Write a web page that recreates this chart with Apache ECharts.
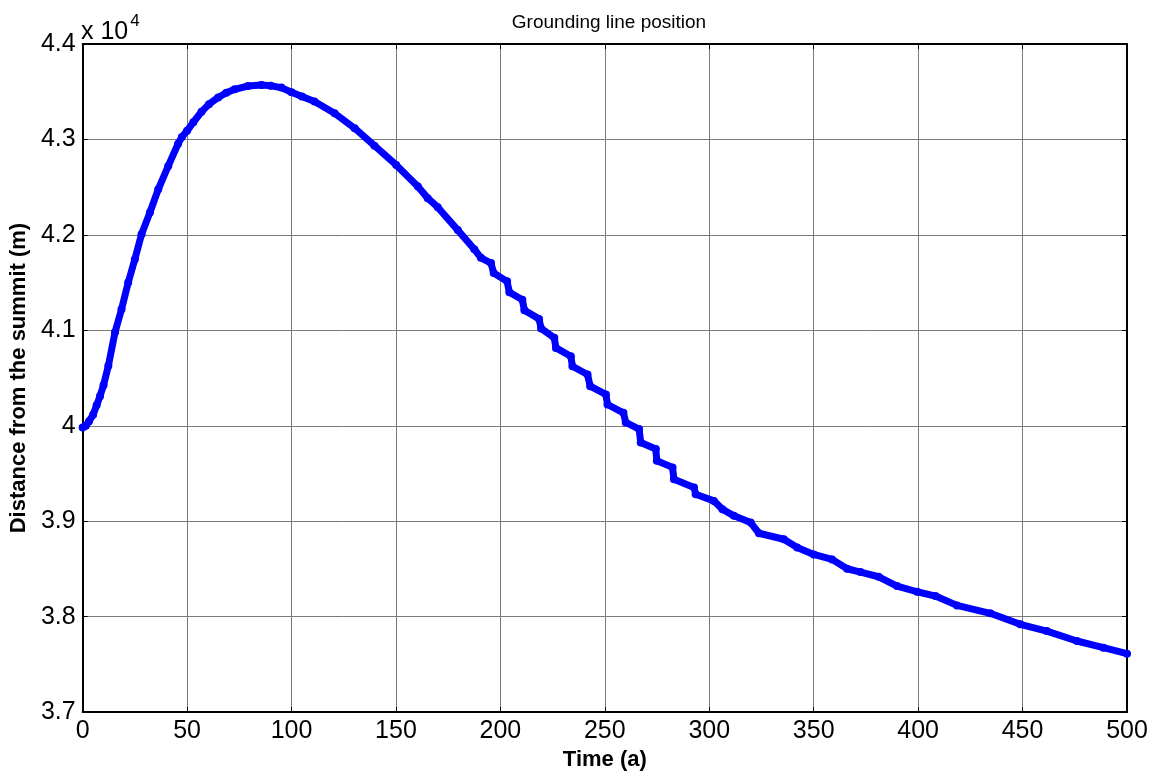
<!DOCTYPE html>
<html>
<head>
<meta charset="utf-8">
<title>Grounding line position</title>
<script src="https://cdn.jsdelivr.net/npm/echarts@6/dist/echarts.min.js"></script>
<style>
  html, body { margin: 0; padding: 0; background: #ffffff; }
  #chart { width: 1165px; height: 776px; }
</style>
</head>
<body>
<div id="chart"></div>
<script>
// Model time (years) and grounding line distance from the summit (m)
const times = [
  0, 1.5, 3, 5, 6.7, 8.3, 10, 12.3, 15.5, 18.6, 21.8, 25, 28.2, 32.2, 36.2,
  41, 45.7, 47.5, 50, 53, 56.9, 60.5, 64.9, 68.8, 72.8, 79.2, 85.6, 90, 95.1,
  100, 105, 111, 120.6, 130.2, 139.7, 150.1, 160.5, 165.2, 170, 179.6, 187.5,
  190.7, 195.5, 196.8, 203.2, 204.3, 210.5, 211.5, 218.5, 219.5, 225.8, 226.6,
  233.7, 234.5, 241.7, 243, 250.5, 251.3, 258.9, 260, 266.4, 267.2, 274.4,
  274.9, 282.4, 283.1, 292.7, 293.5, 302.2, 306.3, 311.8, 319.8, 323.8, 335.7,
  342.1, 350, 358.8, 366, 372.4, 381.1, 389.9, 399.5, 408.3, 418.6, 434.5,
  448.9, 461.6, 476, 488.7, 500
];
const distance = [
  39983, 40000, 40045, 40115, 40215, 40310, 40425, 40628, 40980, 41220, 41500,
  41745, 42007, 42234, 42478, 42722, 42955, 43025, 43090, 43180, 43290, 43370,
  43440, 43490, 43525, 43560, 43570, 43562, 43543, 43495, 43450, 43397, 43275,
  43118, 42935, 42733, 42506, 42385, 42290, 42050, 41850, 41760, 41705, 41600,
  41513, 41400, 41320, 41210, 41120, 41020, 40921, 40816, 40729, 40624, 40537,
  40415, 40328, 40223, 40136, 40035, 39965, 39825, 39756, 39633, 39564, 39440,
  39353, 39283, 39213, 39126, 39056, 38986, 38874, 38811, 38724, 38652, 38600,
  38502, 38467, 38418, 38320, 38261, 38216, 38118, 38035, 37920, 37849, 37745,
  37675, 37612
];
const xTicks = { min: 0, max: 500, step: 50 };
const yTicks = { min: 37000, max: 44000, step: 1000 };
const titleText = 'Grounding line position';
const xName = 'Time (a)';
const yName = 'Distance from the summit (m)';

const FONT = "'Liberation Sans', Arial, Helvetica, sans-serif";
const TICK_FONT = 25;

const chart = echarts.init(document.getElementById('chart'), null, { renderer: 'canvas' });

const plot = { left: 81, right: 38, top: 44, bottom: 63 };

function tickLabelY(v) {
  return String(+(v / 1e4).toFixed(1));
}

const boxAxisCommon = {
  axisLine: { show: true, onZero: false, lineStyle: { color: '#000', width: 2 } },
  axisTick: { show: true, inside: true, length: 5, lineStyle: { color: '#000', width: 1 } },
  axisLabel: { show: false },
  splitLine: { show: false }
};

const option = {
  animation: false,
  backgroundColor: '#ffffff',
  title: {
    text: titleText,
    left: plot.left + (1165 - plot.left - plot.right) / 2,
    textAlign: 'center',
    top: 8,
    textStyle: { fontFamily: FONT, fontSize: 19, fontWeight: 'normal', color: '#000' }
  },
  grid: { left: plot.left, right: plot.right, top: plot.top, bottom: plot.bottom, containLabel: false },
  xAxis: [
    {
      type: 'value',
      position: 'bottom',
      min: xTicks.min, max: xTicks.max, interval: xTicks.step,
      name: xName,
      nameLocation: 'middle',
      nameGap: 34,
      nameTextStyle: { fontFamily: FONT, fontSize: 22, fontWeight: 'bold', color: '#000' },
      axisLine: { show: true, onZero: false, lineStyle: { color: '#000', width: 2 } },
      axisTick: { show: true, inside: true, length: 5, lineStyle: { color: '#000', width: 1 } },
      axisLabel: { show: true, margin: 7, fontFamily: FONT, fontSize: TICK_FONT, color: '#000' },
      splitLine: { show: true, lineStyle: { color: '#7a7a7a', width: 1 } }
    },
    Object.assign({
      type: 'value', position: 'top',
      min: xTicks.min, max: xTicks.max, interval: xTicks.step
    }, boxAxisCommon)
  ],
  yAxis: [
    {
      type: 'value',
      position: 'left',
      min: yTicks.min, max: yTicks.max, interval: yTicks.step,
      name: yName,
      nameLocation: 'middle',
      nameGap: 48,
      nameRotate: 90,
      nameTextStyle: { fontFamily: FONT, fontSize: 22, fontWeight: 'bold', color: '#000' },
      axisLine: { show: true, onZero: false, lineStyle: { color: '#000', width: 2 } },
      axisTick: { show: true, inside: true, length: 5, lineStyle: { color: '#000', width: 1 } },
      axisLabel: { show: true, margin: 7, fontFamily: FONT, fontSize: TICK_FONT, color: '#000', formatter: tickLabelY },
      splitLine: { show: true, lineStyle: { color: '#7a7a7a', width: 1 } }
    },
    Object.assign({
      type: 'value', position: 'right',
      min: yTicks.min, max: yTicks.max, interval: yTicks.step
    }, boxAxisCommon)
  ],
  graphic: [
    {
      type: 'text',
      left: 81,
      top: 13,
      style: {
        text: '{b|x 10}{s|4}',
        rich: {
          b: { fontFamily: FONT, fontSize: 25, fill: '#000', verticalAlign: 'bottom' },
          s: { fontFamily: FONT, fontSize: 17, fill: '#000', verticalAlign: 'top', padding: [0, 0, 15, 2] }
        }
      }
    }
  ],
  series: [
    {
      type: 'line',
      xAxisIndex: 0,
      yAxisIndex: 0,
      data: times.map((t, i) => [t, distance[i]]),
      symbol: 'circle',
      symbolSize: 8,
      showAllSymbol: true,
      lineStyle: { color: '#0000ff', width: 7, join: 'round', cap: 'round' },
      itemStyle: { color: '#0000ff' },
      emphasis: { disabled: true },
      z: 5
    }
  ]
};

chart.setOption(option);
</script>
</body>
</html>
